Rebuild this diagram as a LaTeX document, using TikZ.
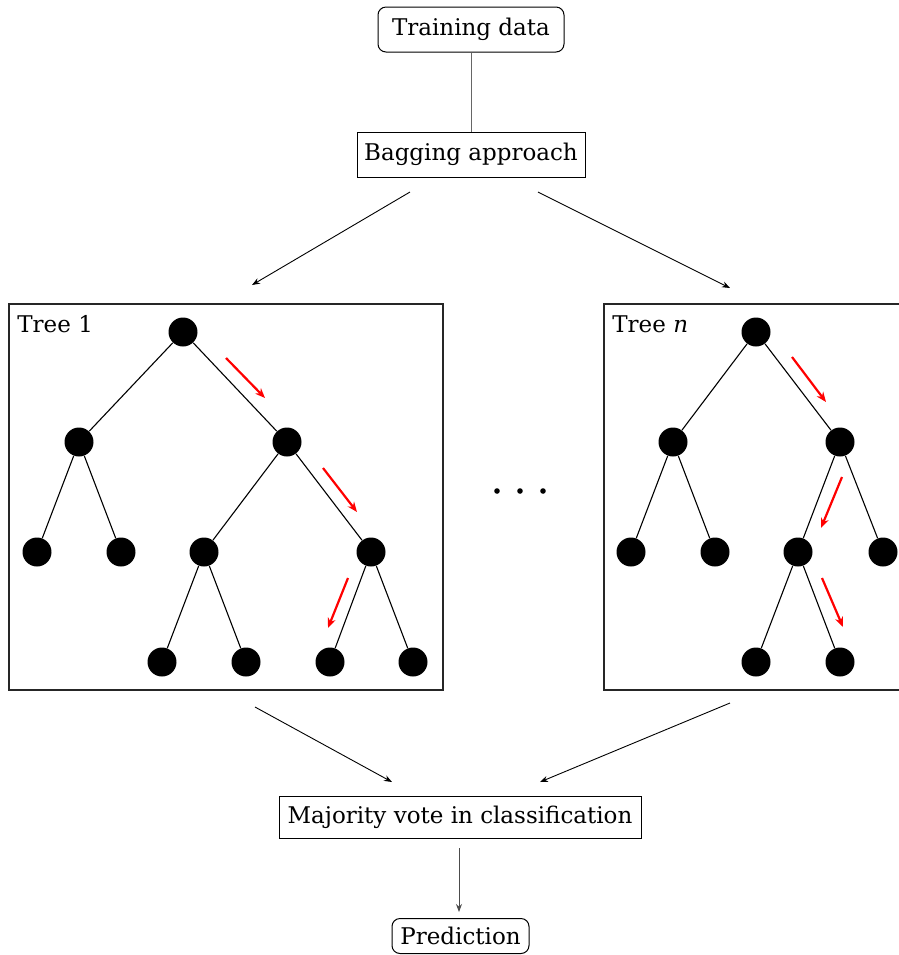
\documentclass[tikz,border=0pt]{standalone}
\usepackage{fontspec}
\setmainfont{DejaVu Serif}
\usetikzlibrary{arrows.meta}
\begin{document}
\begin{tikzpicture}[x=0.5pt,y=-0.5pt,
  box/.style={draw,line width=0.5pt,inner sep=0pt,font=\fontsize{11.5}{13}\selectfont},
  rbox/.style={box,rounded corners=4pt},
  leaf/.style={circle,fill=black,inner sep=0pt,minimum size=14.5pt},
  frame/.style={draw,line width=0.55pt,black!85},
  conn/.style={line width=0.45pt,-{Stealth[length=4pt,width=3pt]}},
  tedge/.style={line width=0.55pt},
  red arrow/.style={red,line width=1.1pt,-{Stealth[length=5pt,width=4pt]}},
  lbl/.style={font=\fontsize{11.5}{13}\selectfont,inner sep=0pt}]
\clip (0,0) rectangle (899,955);
\fill[white] (0,0) rectangle (899,955);
% top boxes
\node[rbox,minimum width=93pt,minimum height=22.5pt] (train) at (471,29.5) {Training data};
\node[box,minimum width=114pt,minimum height=22.5pt] (bag) at (471,154.5) {Bagging approach};
\draw[line width=0.5pt,gray!80!black] (train) -- (bag);
\coordinate (b1) at (410,192);
\coordinate (b2) at (538,192);
\coordinate (t1in) at (252,285);
\coordinate (tnin) at (730,288);
\draw[conn] (b1) -- (t1in);
\draw[conn] (b2) -- (tnin);
% tree frames
\draw[frame] (9,304) rectangle (443,690);
\draw[frame] (604,304) rectangle (910,690);
\node[lbl,anchor=west] (lab1) at (17,324) {Tree 1};
\node[lbl,anchor=west] (labn) at (612,324) {Tree \textit{n}};
% tree 1
\node[leaf] (a) at (183,332) {};
\node[leaf] (aL) at (79,442) {};
\node[leaf] (aR) at (287,442) {};
\node[leaf] (aLL) at (37,552) {};
\node[leaf] (aLR) at (121,552) {};
\node[leaf] (aRL) at (204,552) {};
\node[leaf] (aRR) at (371,552) {};
\node[leaf] (aRLL) at (162,662) {};
\node[leaf] (aRLR) at (246,662) {};
\node[leaf] (aRRL) at (330,662) {};
\node[leaf] (aRRR) at (413,662) {};
\foreach \p/\c in {a/aL,a/aR,aL/aLL,aL/aLR,aR/aRL,aR/aRR,aRL/aRLL,aRL/aRLR,aRR/aRRL,aRR/aRRR}
  \draw[tedge] (\p) -- (\c);
\draw[red arrow] (226,358) -- (265,398);
\draw[red arrow] (323,468) -- (357,512);
\draw[red arrow] (348,578) -- (328,628);
% tree n
\node[leaf] (n) at (756,332) {};
\node[leaf] (nL) at (673,442) {};
\node[leaf] (nR) at (840,442) {};
\node[leaf] (nLL) at (631,552) {};
\node[leaf] (nLR) at (715,552) {};
\node[leaf] (nRL) at (798,552) {};
\node[leaf] (nRR) at (883,552) {};
\node[leaf] (nRLL) at (756,662) {};
\node[leaf] (nRLR) at (840,662) {};
\foreach \p/\c in {n/nL,n/nR,nL/nLL,nL/nLR,nR/nRL,nR/nRR,nRL/nRLL,nRL/nRLR}
  \draw[tedge] (\p) -- (\c);
\draw[red arrow] (792,357) -- (826,402);
\draw[red arrow] (842,477) -- (821,528);
\draw[red arrow] (822,578) -- (843,627);
% dots
\foreach \x in {497,520,543} \fill (\x,491) circle (1.4pt);
% bottom
\node[box,minimum width=181pt,minimum height=21pt] (maj) at (460,817) {Majority vote in classification};
\node[rbox,minimum width=68.5pt,minimum height=17.5pt] (pred) at (460.5,936) {Prediction};
\coordinate (o1) at (255,707);
\coordinate (on) at (730,703);
\coordinate (m1) at (392,782);
\coordinate (mn) at (540,782);
\coordinate (ms) at (459,848);
\coordinate (pn) at (459,912);
\draw[conn] (o1) -- (m1);
\draw[conn] (on) -- (mn);
\draw[conn,gray!60!black] (ms) -- (pn);
\end{tikzpicture}
\end{document}
